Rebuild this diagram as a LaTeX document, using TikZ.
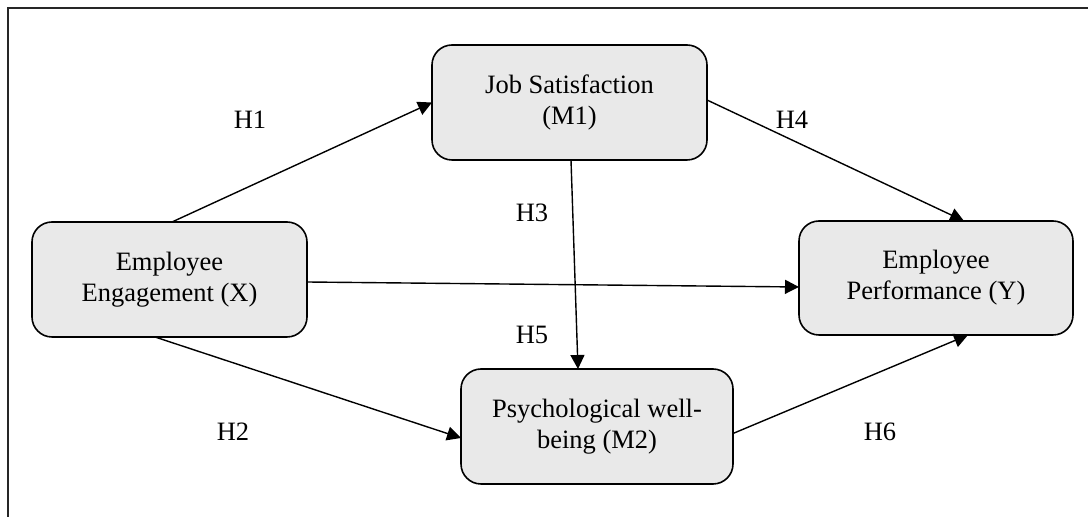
\documentclass[tikz,border=0pt]{standalone}
\usepackage{fontspec}
\setmainfont{Liberation Serif}
\usetikzlibrary{positioning}
\usetikzlibrary{arrows.meta}
\tikzset{
    varnode/.style = {rectangle, rounded corners=10pt, line width=0.8pt, draw=black, align=center, fill=gray!17, font=\fontsize{13.25}{15.5}\selectfont, text=black, outer sep=0pt},
    edgea/.style = {-{Triangle[length=7pt,width=7pt]}, line width=0.7pt, black},
    hlabel/.style = {font=\fontsize{13.25}{15.5}\selectfont, text=black},
    framel/.style = {line width=1pt, black!85}
}
\begin{document}
\begin{tikzpicture}[x=0.5pt, y=-0.5pt]
  \useasboundingbox (0,0) rectangle (1088,517);
  % frame (top and left only)
  \coordinate (f1) at (1088,8);
  \coordinate (f0) at (8,8);
  \coordinate (f2) at (8,517);
  \draw[framel] (f1) -- (f0) -- (f2);
  % variables
  \node[varnode, minimum width=137.5pt, minimum height=57.5pt] (x) at (169.5,279.5) {Employee\\Engagement (X)};
  \node[varnode, minimum width=137.5pt, minimum height=57.5pt] (m1) at (569.5,102.5) {Job Satisfaction\\(M1)};
  \node[varnode, minimum width=137pt, minimum height=57pt] (y) at (936,278) {Employee\\Performance (Y)};
  \node[varnode, minimum width=136pt, minimum height=57.5pt] (m2) at (597,426.5) {Psychological well-\\being (M2)};
  % paths
  \draw[edgea] ([xshift=1.25pt]x.north) -- (m1.west);
  \draw[edgea] ([yshift=-1.25pt]x.east) -- ([yshift=-4.5pt]y.west);
  \draw[edgea] ([xshift=-7.25pt]x.south) -- ([yshift=-5.75pt]m2.west);
  \draw[edgea] ([xshift=0.75pt]m1.south) -- ([xshift=-9.5pt]m2.north);
  \draw[edgea] ([yshift=1.25pt]m1.east) -- ([xshift=14pt]y.north);
  \draw[edgea] ([yshift=-3.5pt]m2.east) -- ([xshift=16pt]y.south);
  % hypotheses
  \node[hlabel] (h1) at (250,120) {H1};
  \node[hlabel] (h2) at (233,432) {H2};
  \node[hlabel] (h3) at (532,213) {H3};
  \node[hlabel] (h4) at (792,120) {H4};
  \node[hlabel] (h5) at (532,335) {H5};
  \node[hlabel] (h6) at (880,432) {H6};
\end{tikzpicture}
\end{document}
